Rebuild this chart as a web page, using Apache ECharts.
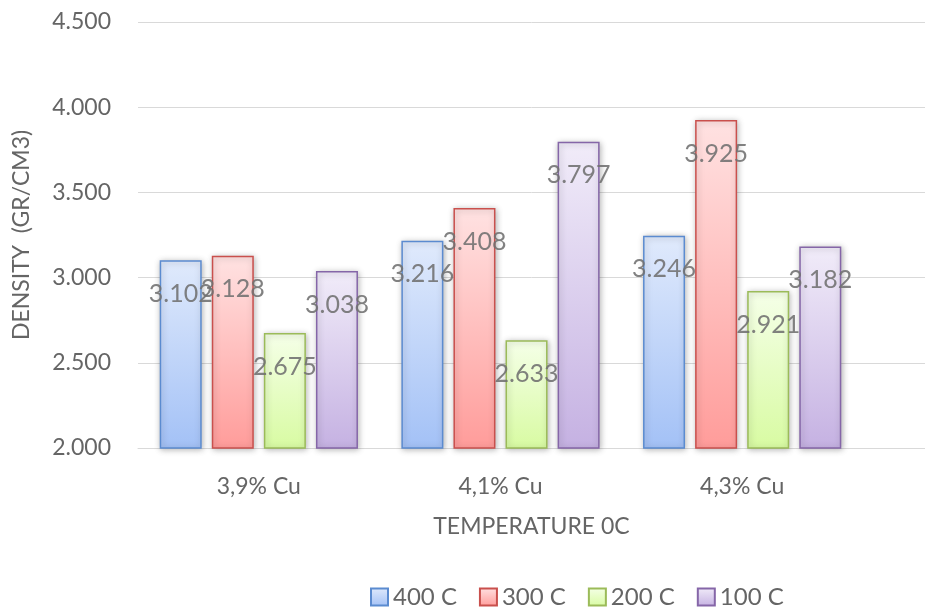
<!DOCTYPE html>
<html>
<head>
<meta charset="utf-8">
<script src="https://cdn.jsdelivr.net/npm/echarts@6/dist/echarts.min.js"></script>
<style>
  html, body { margin: 0; padding: 0; background: #ffffff; }
  #chart { width: 925px; height: 610px; }
</style>
</head>
<body>
<div id="chart"></div>
<script>
// Density per copper content, one series per temperature
const categories = ['3,9% Cu', '4,1% Cu', '4,3% Cu'];
const seriesNames = ['400 C', '300 C', '200 C', '100 C'];
const density400 = [3.102, 3.216, 3.246];
const density300 = [3.128, 3.408, 3.925];
const density200 = [2.675, 2.633, 2.921];
const density100 = [3.038, 3.797, 3.182];
const yTicks = [2.0, 2.5, 3.0, 3.5, 4.0, 4.5];

const FONT = 'Lato, "Open Sans", sans-serif';
const TEXT_GRAY = '#656565';

const palette = [
  { top: '#e0eafc', bottom: '#a3c1f6', border: '#5b8bd0' },
  { top: '#ffe2e2', bottom: '#ff9c9a', border: '#c9504d' },
  { top: '#f5ffe8', bottom: '#d8fba2', border: '#9bbb59' },
  { top: '#f1ecf9', bottom: '#c5b1e2', border: '#8566a8' }
];

const values = [density400, density300, density200, density100];

function gradient(c) {
  return new echarts.graphic.LinearGradient(0, 0, 0, 1, [
    { offset: 0, color: c.top },
    { offset: 1, color: c.bottom }
  ]);
}

const series = seriesNames.map((name, i) => ({
  name: name,
  type: 'bar',
  xAxisIndex: 0,
  yAxisIndex: 0,
  data: values[i],
  barWidth: 42,
  barGap: '24%',
  itemStyle: {
    color: gradient(palette[i]),
    borderColor: palette[i].border,
    borderWidth: 1.5,
    shadowBlur: 6,
    shadowColor: 'rgba(0,0,0,0.28)',
    shadowOffsetX: 1,
    shadowOffsetY: 1
  },
  label: {
    show: true,
    position: 'insideTop',
    distance: 21,
    formatter: p => p.value.toFixed(3),
    color: 'rgba(112,112,112,0.88)',
    fontFamily: FONT,
    fontSize: 25
  },
  z: 3
}));

const chart = echarts.init(document.getElementById('chart'), null, { renderer: 'canvas' });
chart.setOption({
  backgroundColor: '#ffffff',
  animation: false,
  grid: [
    { left: 138, right: 62, top: 22, bottom: 162, containLabel: false },
    { left: 138, right: 0, top: 22, bottom: 162, containLabel: false }
  ],
  legend: {
    data: seriesNames,
    top: 585,
    left: 370,
    padding: 0,
    itemWidth: 17,
    itemHeight: 17,
    itemGap: 22,
    icon: 'rect',
    textStyle: { color: TEXT_GRAY, fontFamily: FONT, fontSize: 24 }
  },
  xAxis: [
    {
      gridIndex: 0,
      type: 'category',
      data: categories,
      axisLine: { show: false },
      axisTick: { show: false },
      axisLabel: { color: TEXT_GRAY, fontFamily: FONT, fontSize: 23, margin: 27 }
    },
    {
      gridIndex: 1,
      type: 'value',
      min: 0,
      max: 1,
      axisLine: { show: true, lineStyle: { color: '#d9d9d9', width: 1 } },
      axisTick: { show: false },
      axisLabel: { show: false },
      splitLine: { show: false },
      name: 'TEMPERATURE 0C',
      nameLocation: 'middle',
      nameGap: 67,
      nameTextStyle: { color: TEXT_GRAY, fontFamily: FONT, fontSize: 23 }
    }
  ],
  yAxis: [
    {
      gridIndex: 0,
      type: 'value',
      min: 2,
      max: 4.5,
      interval: 0.5,
      axisLine: { show: false },
      axisTick: { show: false },
      splitLine: { show: false },
      axisLabel: {
        color: TEXT_GRAY,
        fontFamily: FONT,
        fontSize: 23,
        margin: 27,
        formatter: v => yTicks.includes(v) ? v.toFixed(3) : ''
      },
      name: 'DENSITY  (GR/CM3)',
      nameLocation: 'middle',
      nameGap: 105,
      nameRotate: 90,
      nameTextStyle: { color: TEXT_GRAY, fontFamily: FONT, fontSize: 23 }
    },
    {
      gridIndex: 1,
      type: 'value',
      min: 2,
      max: 4.5,
      interval: 0.5,
      axisLine: { show: false },
      axisTick: { show: false },
      axisLabel: { show: false },
      splitLine: { show: true, lineStyle: { color: '#d9d9d9', width: 1 } }
    }
  ],
  series: series
});
</script>
</body>
</html>
